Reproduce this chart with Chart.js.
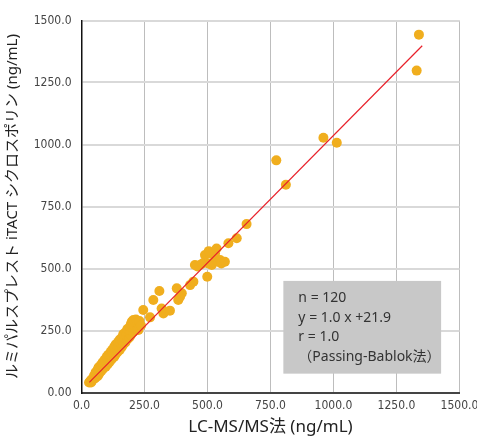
<!DOCTYPE html>
<html>
<head>
<meta charset="utf-8">
<script src="https://cdn.jsdelivr.net/npm/chart.js@4.4.1/dist/chart.umd.min.js"></script>
<style>
  body { margin: 0; background: #fff; }
  #wrap { width: 477px; height: 437px; }
</style>
</head>
<body>
<div id="wrap"><canvas id="chart_cya"></canvas></div>
<script>
// LC-MS/MS (x) vs iTACT (y), ng/mL
const lcms = [
  30, 34, 38, 38, 42, 44, 48, 50, 54, 50,
  56, 60, 64, 56, 64, 70, 64, 70, 78, 68, 78, 86, 78, 86, 96, 84, 92, 104,
  92, 102, 112, 100, 110, 120, 106, 116, 130, 116, 124, 136, 122, 132, 144, 130, 142, 152,
  136, 148, 160, 146, 154, 166, 152, 162, 174, 162, 170, 182, 166, 178, 190, 176, 182, 196,
  182, 194, 206, 192, 202, 214, 196, 208, 222, 200, 212, 226, 206, 216, 230, 226, 236,
  245, 272, 285, 309, 318, 325, 351, 378, 384, 391, 398, 431, 444, 450, 470, 460, 480, 490, 499,
  503, 510, 505, 517, 523, 530, 536, 543, 550, 555, 569, 583, 616, 655, 773, 811, 960, 1013, 1330, 1339
];
const itact = [
  40, 44, 40, 50, 48, 56, 54, 62, 58, 68,
  72, 70, 66, 82, 80, 76, 92, 90, 86, 102, 100, 96, 112, 110, 104, 122, 126, 114,
  132, 130, 124, 144, 140, 134, 152, 150, 144, 164, 160, 154, 172, 170, 164, 184, 186, 172,
  194, 190, 184, 204, 200, 194, 214, 210, 202, 224, 220, 214, 236, 230, 222, 244, 246, 232,
  256, 250, 244, 264, 260, 256, 276, 272, 266, 286, 284, 276, 292, 294, 288, 252, 270,
  333, 303, 373, 409, 339, 319, 330, 420, 373, 386, 400, 433, 447, 514, 514, 508, 520, 554, 467,
  520, 561, 570, 514, 525, 560, 581, 527, 534, 520, 527, 602, 622, 679, 936, 838, 1027, 1007, 1298, 1443
];

// Passing-Bablok line, end points
const regX = [31, 1352];
const regY = [41, 1398];

const statLines = ["n = 120", "y = 1.0 x +21.9", "r = 1.0", "（Passing-Bablok法）"];
const boxRange = { x0: 801, x1: 1427, y0: 450, y1: 76 };

const tickFont = { family: "'Liberation Sans Narrow', 'DejaVu Sans Condensed', sans-serif", size: 12 };
const titleFamily = "'Noto Sans', 'Noto Sans CJK JP', sans-serif";

const statBox = {
  id: "statBox",
  afterDatasetsDraw(chart) {
    const c = chart.ctx, xs = chart.scales.x, ys = chart.scales.y;
    const l = xs.getPixelForValue(boxRange.x0), r = xs.getPixelForValue(boxRange.x1);
    const t = ys.getPixelForValue(boxRange.y0), b = ys.getPixelForValue(boxRange.y1);
    c.save();
    c.fillStyle = "#c8c8c8";
    c.fillRect(l, t, r - l, b - t);
    c.fillStyle = "#333";
    c.font = "14px 'Noto Sans', 'Noto Sans CJK JP', sans-serif";
    c.textBaseline = "middle";
    statLines.forEach((s, i) => {
      c.fillText(s, l + 15, t + 17.5 + i * 19.4);
    });
    c.restore();
  }
};

const ctx = document.getElementById("chart_cya").getContext("2d");
new Chart(ctx, {
  data: {
    datasets: [
      {
        type: "scatter",
        data: lcms.map((v, i) => ({ x: v, y: itact[i] })),
        backgroundColor: "#f0ae1e",
        borderWidth: 0,
        pointRadius: 5,
        order: 2
      },
      {
        type: "line",
        data: regX.map((v, i) => ({ x: v, y: regY[i] })),
        borderColor: "#e8202a",
        borderWidth: 1.2,
        pointRadius: 0,
        fill: false,
        order: 1
      }
    ]
  },
  options: {
    animation: false,
    responsive: true,
    maintainAspectRatio: false,
    layout: { padding: { top: 20.5, right: 17.5, left: 0, bottom: 0 } },
    plugins: {
      legend: { display: false },
      tooltip: { enabled: false }
    },
    scales: {
      x: {
        type: "linear",
        min: 0,
        max: 1500,
        ticks: {
          stepSize: 250,
          color: "#444",
          font: tickFont,
          padding: 6,
          callback: (v) => v.toFixed(1)
        },
        grid: { color: "#bdbdbd", lineWidth: 1, drawTicks: false },
        border: { color: "#444", width: 2 },
        title: { display: true, text: "LC-MS/MS法 (ng/mL)", color: "#222", font: { family: titleFamily, size: 17 }, padding: { top: 0, bottom: 0 } },
        afterFit: (s) => { s.height = 44.5; s.paddingLeft = 0; s.paddingRight = 0; }
      },
      y: {
        type: "linear",
        min: 0,
        max: 1500,
        ticks: {
          stepSize: 250,
          color: "#444",
          font: tickFont,
          padding: 10,
          callback: (v) => (v === 0 ? "0.00" : v.toFixed(1))
        },
        grid: { color: "#d9d9d9", lineWidth: 2, drawTicks: false },
        border: { color: "#111", width: 1.5 },
        title: { display: true, text: "ルミパルスプレスト iTACT シクロスポリン (ng/mL)", color: "#222", font: { family: titleFamily, size: 15 }, padding: { top: 4, bottom: 0 } },
        afterFit: (s) => { s.width = 81.5; s.paddingTop = 0; s.paddingBottom = 0; }
      }
    }
  },
  plugins: [statBox]
});
</script>
</body>
</html>
